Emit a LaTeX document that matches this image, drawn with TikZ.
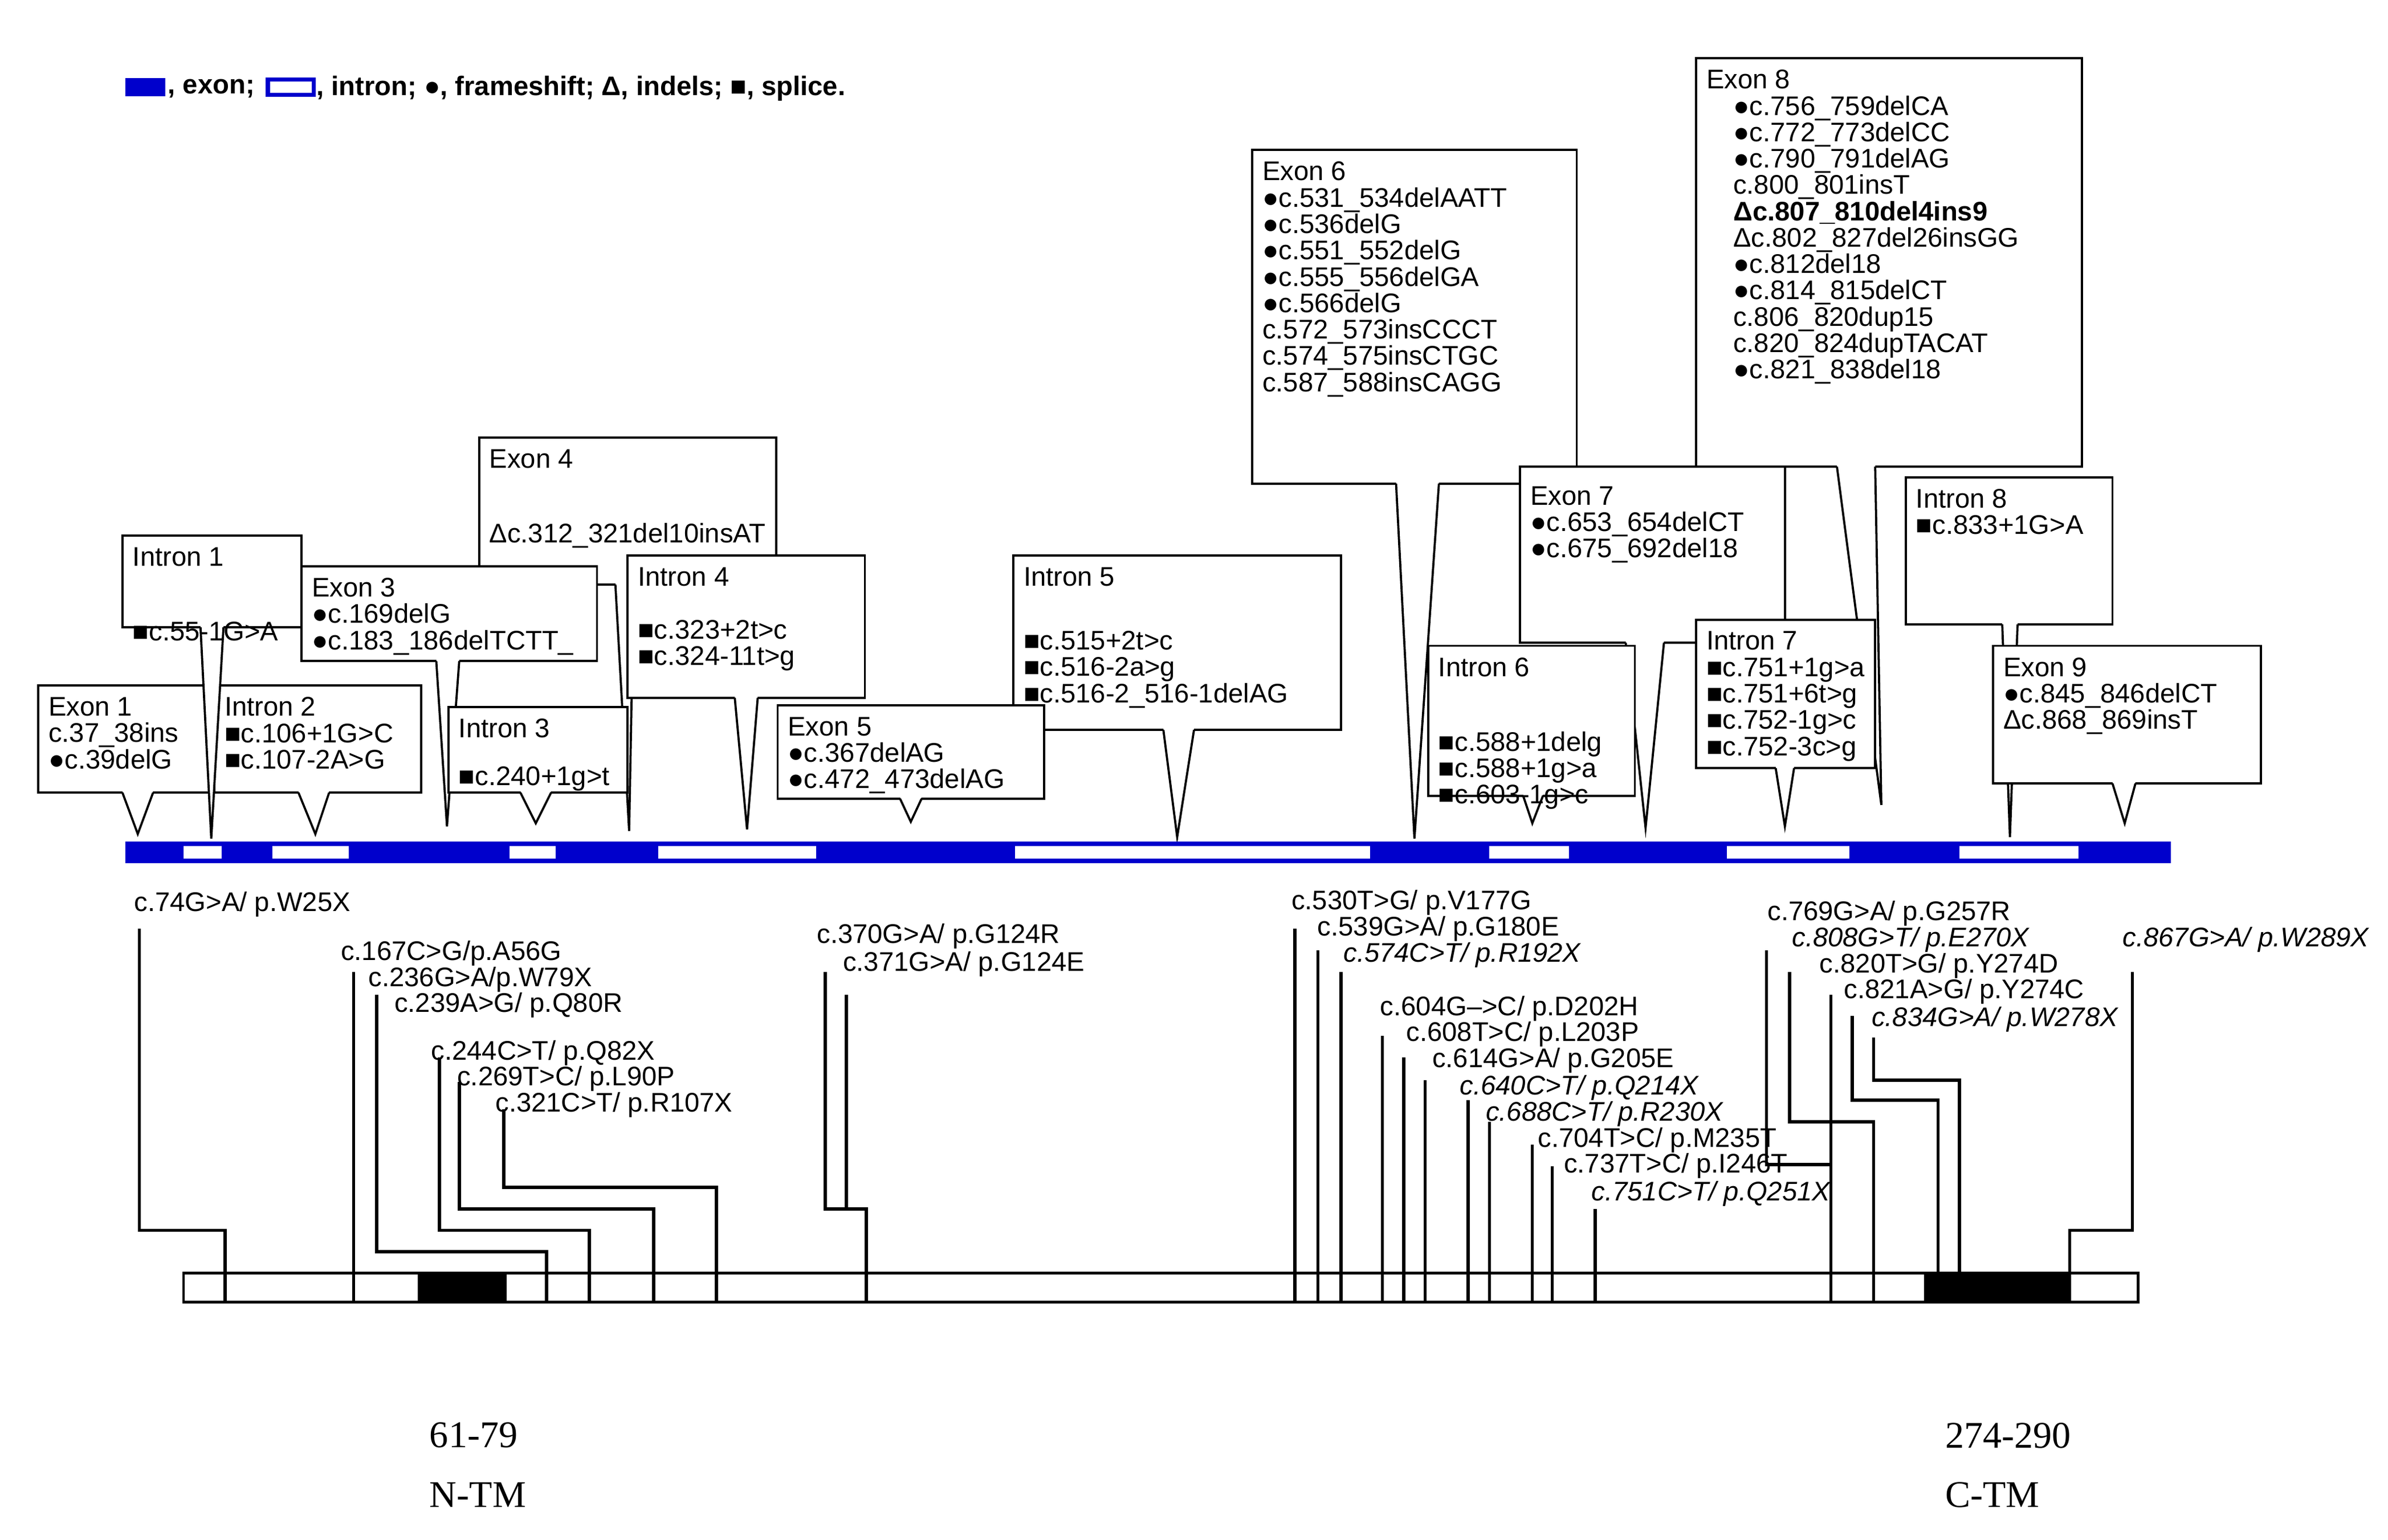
\documentclass[tikz,border=0pt]{standalone}
\usepackage{fontspec}
\setmainfont{Liberation Sans}
\newfontfamily\tmfont{Liberation Serif}
\usetikzlibrary{positioning}
\definecolor{genblue}{rgb}{0.0,0.0,0.8}

\tikzset{
  gbox/.style={draw=black, fill=white, line width=0.4pt, inner sep=0pt, outer sep=0pt},
  gtext/.style={font=\fontsize{5}{4.9}\selectfont, inner sep=0pt, align=left},
  mlab/.style={font=\fontsize{5}{5}\selectfont, inner sep=0pt, anchor=west},
  mlabi/.style={mlab, font=\fontsize{5}{5}\selectfont\itshape},
  mline/.style={line width=0.6pt},
  tmlab/.style={font=\tmfont\fontsize{7}{7}\selectfont, inner sep=0pt}
}

% callout: name, x1, y1, x2, y2, pointer base a, b, tip, text
\newcommand{\gcallout}[9]{%
  \node[gbox, minimum width={(#4-#2)*0.01cm}, minimum height={(#5-#3)*0.01cm}, anchor=north west] (#1) at (#2,#3) {};
  \coordinate (#1tip) at #8;
  \fill[white] (#6,#5-1) -- (#1tip) -- (#7,#5-1) -- cycle;
  \draw[line width=0.4pt] (#6,#5) -- (#1tip) -- (#7,#5);
  \node[gtext, anchor=north west] at ([shift={(6,7)}]#1.north west) {#9};
}

\begin{document}
\begin{tikzpicture}[x=0.01cm, y=-0.01cm]
\useasboundingbox (0,0) rectangle (1560,1006);

% legend
\fill[genblue] (82,51) rectangle (108,63);
\node[gtext, font=\fontsize{5}{5}\selectfont\bfseries, anchor=west] (lgex) at (109,58) {, exon;};
\draw[genblue, line width=0.8pt] (175,52) rectangle (205,62);
\node[gtext, font=\fontsize{5}{5}\selectfont\bfseries, anchor=west] (lgin) at (206,58) {, intron; ●, frameshift; Δ, indels; ■, splice.};

% callouts
\gcallout{ex6}{818}{98}{1030}{316}{912}{940}{(924,548)}{Exon 6\\●c.531\_534delAATT\\●c.536delG\\●c.551\_552delG\\●c.555\_556delGA\\●c.566delG\\c.572\_573insCCCT\\c.574\_575insCTGC\\c.587\_588insCAGG}
\gcallout{ex8}{1108}{38}{1360}{305}{1200}{1225}{(1229,526)}{Exon 8\\\quad●c.756\_759delCA\\\quad●c.772\_773delCC\\\quad●c.790\_791delAG\\\quad c.800\_801insT\\\quad\textbf{Δc.807\_810del4ins9}\\\quad Δc.802\_827del26insGG\\\quad●c.812del18\\\quad●c.814\_815delCT\\\quad c.806\_820dup15\\\quad c.820\_824dupTACAT\\\quad●c.821\_838del18}
\gcallout{ex4}{313}{286}{507}{382}{402}{414}{(411,543)}{Exon 4\\[9pt]Δc.312\_321del10insAT}
\gcallout{ex7}{993}{305}{1166}{420}{1062}{1087}{(1075,541)}{\\[-6pt]\\Exon 7\\●c.653\_654delCT\\●c.675\_692del18}
\gcallout{ex3}{197}{370}{390}{432}{285}{300}{(292,540)}{Exon 3\\●c.169delG\\●c.183\_186delTCTT\_}
\gcallout{in8}{1245}{312}{1380}{408}{1308}{1318}{(1313,547)}{Intron 8\\■c.833+1G>A}
\gcallout{in4}{410}{363}{565}{456}{480}{495}{(488,542)}{Intron 4\\[5pt]■c.323+2t>c\\■c.324-11t>g}
\gcallout{in5}{662}{363}{876}{477}{760}{780}{(769,547)}{Intron 5\\[7pt]■c.515+2t>c\\■c.516-2a>g\\■c.516-2\_516-1delAG}
\gcallout{in7}{1108}{405}{1225}{502}{1160}{1172}{(1166,540)}{Intron 7\\■c.751+1g>a\\■c.751+6t>g\\■c.752-1g>c\\■c.752-3c>g}
\gcallout{in6}{933}{422}{1068}{520}{995}{1008}{(1001,538)}{Intron 6\\[9pt]■c.588+1delg\\■c.588+1g>a\\■c.603-1g>c}
\gcallout{ex9}{1302}{422}{1477}{512}{1380}{1395}{(1388,538)}{Exon 9\\●c.845\_846delCT\\Δc.868\_869insT}
\gcallout{in2}{140}{448}{275}{518}{195}{215}{(206,545)}{Intron 2\\■c.106+1G>C\\■c.107-2A>G}
\gcallout{ex1}{25}{448}{140}{518}{80}{100}{(90,545)}{Exon 1\\c.37\_38ins\\●c.39delG}
\gcallout{in1}{80}{350}{197}{410}{131}{146}{(138,548)}{Intron 1\\[9pt]■c.55-1G>A}
\gcallout{in3}{293}{462}{410}{518}{340}{360}{(350,538)}{Intron 3\\[4pt]■c.240+1g>t}
\gcallout{ex5}{508}{461}{682}{522}{588}{602}{(595,537)}{Exon 5\\●c.367delAG\\●c.472\_473delAG}

% gene bar
\fill[genblue] (82,550) rectangle (1418,564);
\foreach \a/\b in {120/145, 178/228, 333/363, 430/533, 663/895, 973/1025, 1128/1208, 1280/1358}
  \fill[white] (\a,553) rectangle (\b,561);

% protein bar
\node[draw, line width=0.5pt, fill=white, inner sep=0pt, minimum width=12.76cm, minimum height=0.19cm, anchor=north west] (prot) at (119,831) {};
\fill[black] (273,831) rectangle (331,850);
\fill[black] (1257,831) rectangle (1353,850);

% mutations N-terminal
\node[mlab] (m74) at (87,591) {c.74G>A/ p.W25X};
\node[mlab] (m167) at (222,623) {c.167C>G/p.A56G};
\node[mlab] (m236) at (240,640) {c.236G>A/p.W79X};
\node[mlab] (m239) at (257,657) {c.239A>G/ p.Q80R};
\node[mlab] (m244) at (281,688) {c.244C>T/ p.Q82X};
\node[mlab] (m269) at (298,705) {c.269T>C/ p.L90P};
\node[mlab] (m321) at (323,722) {c.321C>T/ p.R107X};
\node[mlab] (m370) at (533,612) {c.370G>A/ p.G124R};
\node[mlab] (m371) at (550,630) {c.371G>A/ p.G124E};
\draw[mline] (91,607) |- (147,804) -- (147,0 |- prot.south);
\draw[mline] (231,635) -- (231,0 |- prot.south);
\draw[mline] (246,650) |- (357,818) -- (357,0 |- prot.south);
\draw[mline] (287,691) |- (385,804) -- (385,0 |- prot.south);
\draw[mline] (300,707) |- (427,790) -- (427,0 |- prot.south);
\draw[mline] (329,725) |- (468,776) -- (468,0 |- prot.south);
\draw[mline] (539,635) |- (566,790) -- (566,0 |- prot.south);
\draw[mline] (553,650) -- (553,790);

% mutations C-terminal
\node[mlab] (m530) at (843,590) {c.530T>G/ p.V177G};
\node[mlab] (m539) at (860,607) {c.539G>A/ p.G180E};
\node[mlabi] (m574) at (877,624) {c.574C>T/ p.R192X};
\node[mlab] (m604) at (901,659) {c.604G-->C/ p.D202H};
\node[mlab] (m608) at (918,676) {c.608T>C/ p.L203P};
\node[mlab] (m614) at (935,693) {c.614G>A/ p.G205E};
\node[mlabi] (m640) at (953,711) {c.640C>T/ p.Q214X};
\node[mlabi] (m688) at (970,728) {c.688C>T/ p.R230X};
\node[mlab] (m704) at (1004,745) {c.704T>C/ p.M235T};
\node[mlab] (m737) at (1021,762) {c.737T>C/ p.I246T};
\node[mlabi] (m751) at (1039,780) {c.751C>T/ p.Q251X};
\foreach \x/\y in {846/607, 861/621, 876/635, 903/677, 917/691, 931/706, 959/719, 973/733, 1001/748, 1014/762, 1042/790}
  \draw[mline] (\x,\y) -- (\x,0 |- prot.south);

\node[mlab] (m769) at (1154,597) {c.769G>A/ p.G257R};
\node[mlabi] (m808) at (1170,614) {c.808G>T/ p.E270X};
\node[mlab] (m820) at (1188,631) {c.820T>G/ p.Y274D};
\node[mlab] (m821) at (1204,648) {c.821A>G/ p.Y274C};
\node[mlabi] (m834) at (1222,666) {c.834G>A/ p.W278X};
\node[mlabi] (m867) at (1386,614) {c.867G>A/ p.W289X};
\draw[mline] (1154,621) |- (1196,761);
\draw[mline] (1196,650) -- (1196,0 |- prot.south);
\draw[mline] (1169,635) |- (1224,733) -- (1224,0 |- prot.south);
\draw[mline] (1210,664) |- (1266,719) -- (1266,0 |- prot.south);
\draw[mline] (1224,678) |- (1280,706) -- (1280,0 |- prot.south);
\draw[mline] (1393,635) |- (1352,804) -- (1352,0 |- prot.south);

% transmembrane labels
\node[tmlab, anchor=west] (ntmr) at (280,938) {61-79};
\node[tmlab, anchor=west] (ntm) at (280,977) {N-TM};
\node[tmlab, anchor=west] (ctmr) at (1270,938) {274-290};
\node[tmlab, anchor=west] (ctm) at (1270,977) {C-TM};
\end{tikzpicture}
\end{document}
